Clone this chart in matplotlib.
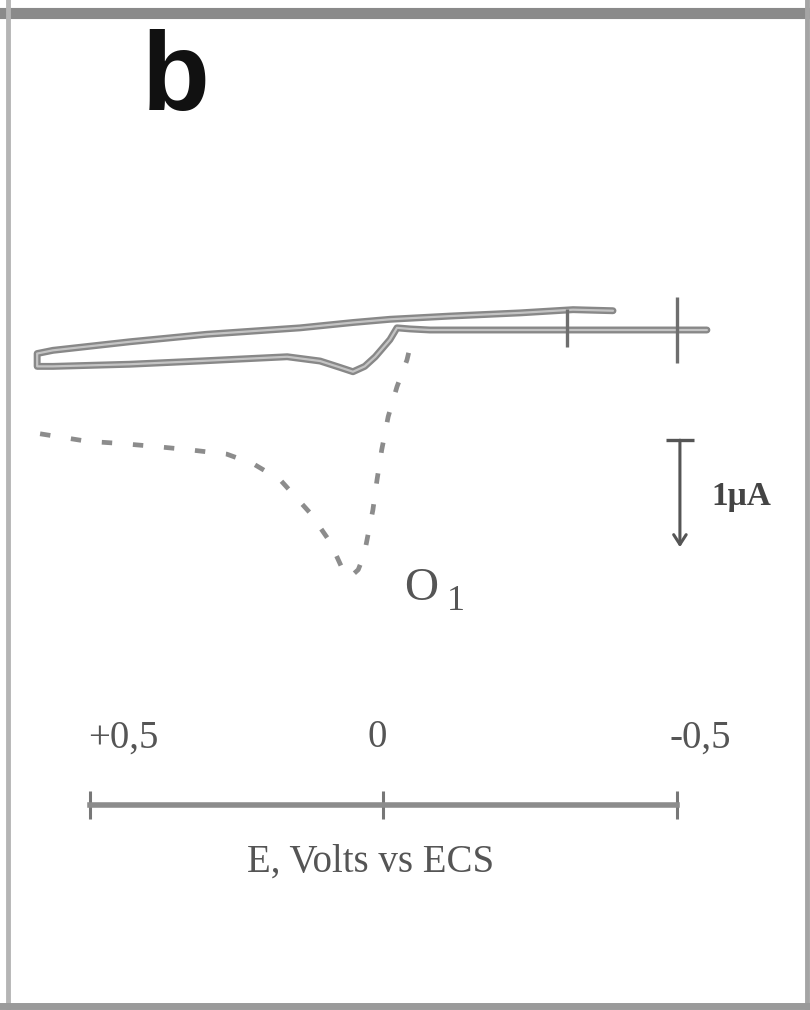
import matplotlib
matplotlib.use("Agg")
import matplotlib.pyplot as plt
from matplotlib.lines import Line2D

plt.rcParams['font.family'] = ['Liberation Serif', 'DejaVu Serif']

# potential (V vs ECS) and current (uA)
# solid loop, upper branch (right to left after the return sweep)
E_upper = [0.590, 0.563, 0.432, 0.301, 0.142, 0.052, -0.011, -0.113, -0.233, -0.323, -0.391]
I_upper = [-0.22, -0.19, -0.11, -0.04, 0.02, 0.07, 0.10, 0.13, 0.16, 0.19, 0.18]

# solid loop, lower branch
E_lower = [0.590, 0.563, 0.432, 0.313, 0.164, 0.108, 0.074, 0.052, 0.032, 0.014,
           -0.011, -0.023, -0.045, -0.079, -0.198, -0.306, -0.437, -0.551]
I_lower = [-0.34, -0.34, -0.32, -0.29, -0.25, -0.29, -0.35, -0.39, -0.34, -0.25,
           -0.09, 0.02, 0.01, 0.0, 0.0, 0.0, 0.0, 0.0]

# dashed curve with the O1 peak
E_dash = [0.585, 0.505, 0.449, 0.386, 0.330, 0.267, 0.222, 0.176, 0.125, 0.091, 0.071,
          0.057, 0.043, 0.033, 0.028, 0.018, 0.011, 0.003, -0.008, -0.023, -0.040, -0.050]
I_dash = [-0.97, -1.04, -1.06, -1.09, -1.12, -1.16, -1.25, -1.40, -1.71, -1.98, -2.22,
          -2.31, -2.24, -2.10, -1.96, -1.68, -1.40, -1.12, -0.81, -0.53, -0.28, -0.05]

# vertical marks on the sweep (reversal / start)
E_marks = [-0.5, -0.313]
I_marks = [0.0, 0.02]
mark_sizes = [47, 27]

# potential scale
E_ticks = [0.5, 0.0, -0.5]
E_label_pos = [0.444, 0.011, -0.539]
E_ticklabels = ['+0,5', '0', '-0,5']

# current scale bar (1 uA)
bar_E = -0.505
bar_top = -1.03
bar_len = 1.0

grey = '#8c8c8c'
txt = '#555555'

fig = plt.figure(figsize=(8.1, 10.1), dpi=100)
ax = fig.add_axes([0, 0, 1, 1])
ax.set_xlim(0.6533, -0.7266)
ax.set_ylim(-6.355, 3.084)
ax.axis('off')

# solid loop drawn as one closed trace, hollow look of the scan
loop_E = E_upper[::-1] + E_lower
loop_I = I_upper[::-1] + I_lower
ax.plot(loop_E, loop_I, color='#888888', lw=5, solid_joinstyle='round', solid_capstyle='round')
ax.plot(loop_E, loop_I, color='#c4c4c4', lw=1.6, solid_joinstyle='round', solid_capstyle='round')

ax.plot(E_dash, I_dash, color=grey, lw=3.4, linestyle=(0, (2.2, 4.4)))

for e, i, s in zip(E_marks, I_marks, mark_sizes):
    ax.plot([e], [i], marker='|', ms=s, mew=2.4, color='#6e6e6e')

ax.text(-0.064, -2.52, 'O', fontsize=34, color=txt, ha='center', va='baseline')
ax.text(-0.1235, -2.62, '1', fontsize=26, color=txt, ha='center', va='baseline')

# scale bar
ax.annotate('', xy=(bar_E, bar_top - bar_len), xytext=(bar_E, bar_top),
            arrowprops=dict(arrowstyle='->, head_length=0.7, head_width=0.45',
                            color='#555555', lw=2.2, shrinkA=0, shrinkB=0))
ax.plot([bar_E], [bar_top], marker='_', ms=20, mew=2.4, color='#555555')
ax.text(-0.559, -1.64, '1μA', fontsize=24, color='#444444', ha='left', va='baseline',
        fontweight='bold')

# potential axis
ax_e = fig.add_axes([0, 205 / 1010, 1, 0.0001])
ax_e.set_xlim(0.6533, -0.7266)
ax_e.patch.set_visible(False)
for s in ['top', 'left', 'right']:
    ax_e.spines[s].set_visible(False)
ax_e.spines['bottom'].set_bounds(-0.5, 0.5)
ax_e.spines['bottom'].set_color(grey)
ax_e.spines['bottom'].set_linewidth(4)
ax_e.set_yticks([])
ax_e.set_xticks(E_ticks)
ax_e.set_xticklabels([])
ax_e.tick_params(axis='x', which='major', direction='inout', length=20, width=2.2,
                 color='#777777', top=False, bottom=True, labelbottom=False)
ax_e.set_xticks(E_label_pos, minor=True)
ax_e.set_xticklabels(E_ticklabels, minor=True)
ax_e.tick_params(axis='x', which='minor', length=0, top=False, bottom=False,
                 labeltop=True, labelbottom=False, pad=35, labelsize=28, labelcolor=txt)
ax_e.set_xlabel('E, Volts vs ECS', fontsize=28, color=txt, labelpad=18, x=0.457)

fig.text(176 / 810, 1 - 110 / 1010, 'b', fontsize=80, family='Liberation Sans',
         fontweight='bold', ha='center', va='baseline', color='#111111')

# scanned frame
fig.add_artist(Line2D([0, 1], [1 - 13 / 1010] * 2, color='#8a8a8a', lw=8))
fig.add_artist(Line2D([8 / 810] * 2, [0, 1], color='#b5b5b5', lw=3.5))
fig.add_artist(Line2D([807 / 810] * 2, [0, 1], color='#a5a5a5', lw=3.5))
fig.add_artist(Line2D([0, 1], [4 / 1010] * 2, color='#9a9a9a', lw=5))

fig.savefig('out.png', dpi=100, facecolor='white')
